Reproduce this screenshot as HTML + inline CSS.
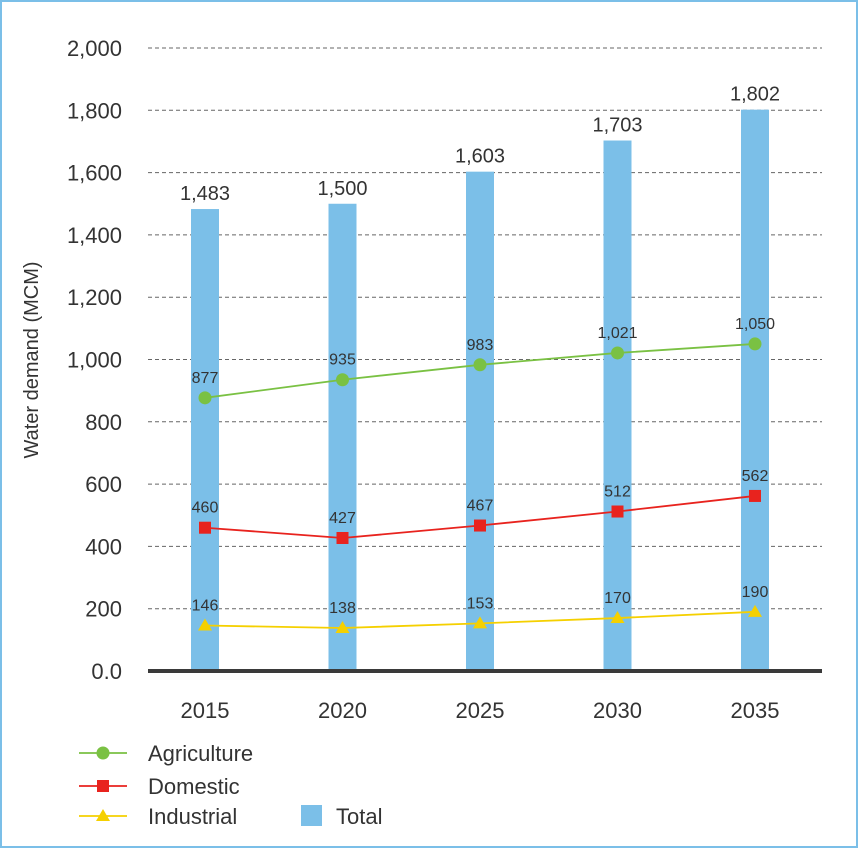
<!DOCTYPE html>
<html><head><meta charset="utf-8"><style>
html,body{margin:0;padding:0;background:#fff}
#wrap{position:relative;width:858px;height:848px;box-sizing:border-box;border:2px solid #7bbfe8;background:#fff}
svg text{font-family:"Liberation Sans",sans-serif;fill:#333}
</style></head><body>
<div id="wrap">
<svg id="chart" width="854" height="844" viewBox="2 2 854 844"></svg>
</div>
<script>
const years = ["2015","2020","2025","2030","2035"];
const total = [1483,1500,1603,1703,1802];
const agriculture = [877,935,983,1021,1050];
const domestic = [460,427,467,512,562];
const industrial = [146,138,153,170,190];
const yTicks = [0,200,400,600,800,1000,1200,1400,1600,1800,2000];
const yTickLabels = ["0.0","200","400","600","800","1,000","1,200","1,400","1,600","1,800","2,000"];

const NS="http://www.w3.org/2000/svg";
const svg=document.getElementById('chart');
function mk(tag,attrs,parent){const e=document.createElementNS(NS,tag);for(const k in attrs)e.setAttribute(k,attrs[k]);(parent||svg).appendChild(e);return e;}
const x0=148,x1=822,yBase=671,yTop=48;
function yS(v){return yBase-(v/2000)*(yBase-yTop);}
function xS(i){return 205+i*137.5;}
function fmt(v){return v.toLocaleString('en-US');}

// grid
yTicks.forEach((t,i)=>{
  if(t>0){const g=mk('line',{x1:x0,x2:x1,y1:yS(t),y2:yS(t),stroke:'#666','stroke-width':1,'stroke-dasharray':'4,3'});
  
  }
  const tl=mk('text',{x:122,y:yS(t)+8,'text-anchor':'end','font-size':22});
  tl.textContent=yTickLabels[i];
  
  
});
// y title
const yt=mk('text',{x:0,y:0,'font-size':20,'text-anchor':'middle',transform:'translate(38,360) rotate(-90)'});
yt.textContent='Water demand (MCM)';



// bars
total.forEach((v,i)=>{
  const b=mk('rect',{x:xS(i)-14,y:yS(v),width:28,height:yBase-yS(v),fill:'#7bbfe8'});
  
  
  const t=mk('text',{x:xS(i),y:yS(v)-9,'text-anchor':'middle','font-size':20});
  t.textContent=fmt(v);
  
  
  const xl=mk('text',{x:xS(i),y:718,'text-anchor':'middle','font-size':22});
  xl.textContent=years[i];
  
  
});
// axis
const ax=mk('line',{x1:x0,x2:x1,y1:yBase,y2:yBase,stroke:'#3a3a3a','stroke-width':4});



function marker(shape,cx,cy,color,parent){
  if(shape==='circle')return mk('circle',{cx:cx,cy:cy,r:6.5,fill:color},parent);
  if(shape==='square')return mk('rect',{x:cx-6,y:cy-6,width:12,height:12,fill:color},parent);
  return mk('polygon',{points:`${cx},${cy-7} ${cx+7},${cy+5} ${cx-7},${cy+5}`,fill:color},parent);
}
function series(data,color,shape,name){
  const pl=mk('polyline',{points:data.map((v,i)=>xS(i)+','+yS(v)).join(' '),fill:'none',stroke:color,'stroke-width':1.8});
  
  
  data.forEach((v,i)=>{
    const m=marker(shape,xS(i),yS(v),color);
    
    
    const t=mk('text',{x:xS(i),y:yS(v)-15,'text-anchor':'middle','font-size':16});
    t.textContent=fmt(v);
    
    
  });
}
series(agriculture,'#7ac143','circle','agriculture');
series(domestic,'#e8231e','square','domestic');
series(industrial,'#f5d000','triangle','industrial');

// legend
const leg=[['Agriculture','#7ac143','circle',753],['Domestic','#e8231e','square',786],['Industrial','#f5d000','triangle',816]];
leg.forEach(l=>{
  const g=mk('g',{});
  
  
  mk('line',{x1:79,x2:127,y1:l[3],y2:l[3],stroke:l[1],'stroke-width':1.8},g);
  marker(l[2],103,l[3],l[1],g);
  const t=mk('text',{x:148,y:l[3]+8,'font-size':22},g);t.textContent=l[0];
});
const gt=mk('g',{});


mk('rect',{x:301,y:805,width:21,height:21,fill:'#7bbfe8'},gt);
const tt=mk('text',{x:336,y:824,'font-size':22},gt);tt.textContent='Total';
</script>
</body></html>
